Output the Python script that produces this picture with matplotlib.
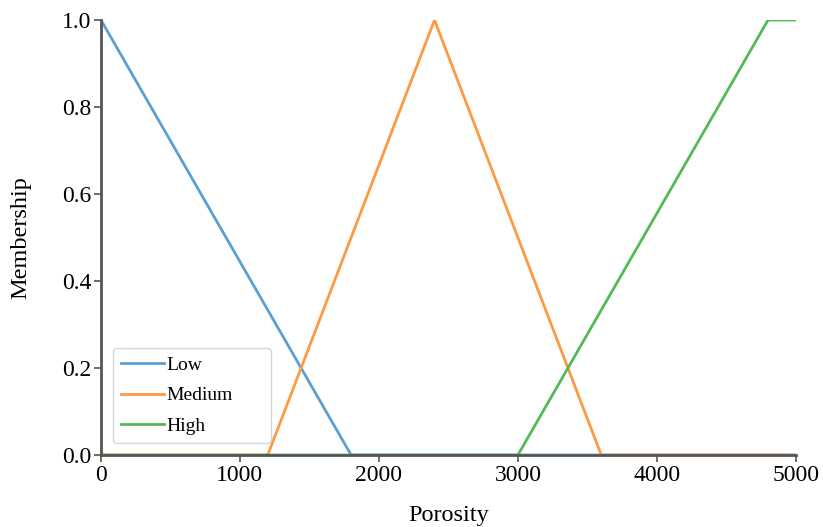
import numpy as np
import matplotlib.pyplot as plt

porosity = [0, 1200, 1800, 2400, 3000, 3600, 4800, 5000]
low = [1.0, 1/3, 0.0, 0.0, 0.0, 0.0, 0.0, 0.0]
medium = [0.0, 0.0, 0.5, 1.0, 0.5, 0.0, 0.0, 0.0]
high = [0.0, 0.0, 0.0, 0.0, 0.0, 1/3, 1.0, 1.0]
labels = ['Low', 'Medium', 'High']
colors = ['#5b9fd3', '#fd9a42', '#55b955']


def main():
    plt.rcParams['font.family'] = ['Liberation Serif', 'DejaVu Serif']

    fig = plt.figure(figsize=(8.23, 5.27), dpi=100)
    ax = fig.add_axes([0.1227, 0.1366, 0.8443, 0.8254])

    for y, lab, c in zip([low, medium, high], labels, colors):
        ax.plot(porosity, y, color=c, lw=2, label=lab)

    ax.set_xlim(0, 5000)
    ax.set_ylim(0, 1)
    ax.set_xticks([0, 1000, 2000, 3000, 4000, 5000])
    ax.set_yticks([0.0, 0.2, 0.4, 0.6, 0.8, 1.0])
    ax.tick_params(labelsize=17, length=5, width=1.2, color='#555555', pad=2)
    ax.set_xlabel('Porosity', fontsize=17.5, labelpad=14)
    ax.set_ylabel('Membership', fontsize=17.5, labelpad=22)

    for s in ['top', 'right']:
        ax.spines[s].set_visible(False)
    for s in ['left', 'bottom']:
        ax.spines[s].set_color('#555555')
        ax.spines[s].set_linewidth(2)

    ax.legend(loc='lower left', fontsize=14, handlelength=2.2,
              handletextpad=0.15, bbox_to_anchor=(0.0173, 0.0276, 0.227, 0.2),
              mode='expand', borderaxespad=0,
              framealpha=0.8, labelspacing=0.68, borderpad=0.4)

    fig.savefig('out.png', dpi=100)


if __name__ == '__main__':
    main()
